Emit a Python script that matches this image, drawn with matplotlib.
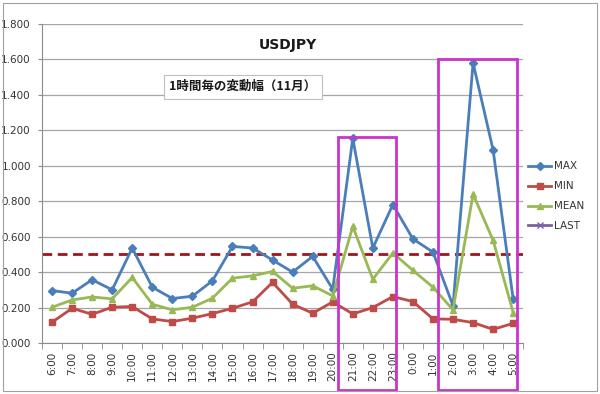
import matplotlib
matplotlib.use("Agg")
import matplotlib.pyplot as plt
from matplotlib.patches import Rectangle
import numpy as np

plt.rcParams['font.family'] = ['DejaVu Sans']

hours = ["6:00", "7:00", "8:00", "9:00", "10:00", "11:00", "12:00", "13:00",
         "14:00", "15:00", "16:00", "17:00", "18:00", "19:00", "20:00", "21:00",
         "22:00", "23:00", "0:00", "1:00", "2:00", "3:00", "4:00", "5:00"]
max_vals = [0.296, 0.281, 0.357, 0.300, 0.536, 0.315, 0.251, 0.264,
            0.351, 0.545, 0.536, 0.468, 0.400, 0.489, 0.304, 1.155,
            0.536, 0.781, 0.587, 0.513, 0.210, 1.580, 1.089, 0.247]
min_vals = [0.117, 0.196, 0.162, 0.202, 0.206, 0.136, 0.121, 0.140,
            0.166, 0.196, 0.232, 0.342, 0.219, 0.168, 0.232, 0.164,
            0.200, 0.262, 0.234, 0.136, 0.134, 0.115, 0.077, 0.111]
mean_vals = [0.202, 0.243, 0.260, 0.249, 0.370, 0.219, 0.187, 0.202,
             0.253, 0.366, 0.379, 0.404, 0.309, 0.323, 0.266, 0.658,
             0.360, 0.508, 0.410, 0.315, 0.187, 0.840, 0.579, 0.172]
threshold = 0.5
yticks = [0.0, 0.2, 0.4, 0.6, 0.8, 1.0, 1.2, 1.4, 1.6, 1.8]
highlight_start = ["21:00", "2:00"]
highlight_end = ["23:00", "5:00"]
highlight_top = [1.163, 1.60]

fig = plt.figure(figsize=(6.0, 3.94), dpi=100)
ax = fig.add_axes([0.07, 0.1294, 0.802, 0.8097])

x = np.arange(len(hours))
ax.set_xlim(-0.5, len(hours) - 0.5)
ax.set_ylim(0, 1.8)

ax.set_yticks(yticks)
ax.set_yticklabels([f"{v:.3f}" for v in yticks], fontsize=7.5, color='#333333')
ax.yaxis.grid(True, color='#a6a6a6', lw=0.9)
ax.set_axisbelow(True)
ax.tick_params(axis='y', length=3, color='#8c8c8c', pad=5)

ax.set_xticks(x)
ax.set_xticklabels(hours, rotation=90, fontsize=7.5, color='#333333')
ax.set_xticks(np.arange(-0.5, len(hours)), minor=True)
ax.tick_params(axis='x', which='major', length=0, pad=6)
ax.tick_params(axis='x', which='minor', length=4, color='#8c8c8c')

for s in ['top', 'right']:
    ax.spines[s].set_visible(False)
for s in ['left', 'bottom']:
    ax.spines[s].set_color('#8c8c8c')

ax.axhline(threshold, color='#a5121c', lw=2, ls=(0, (3.5, 2)), zorder=2)

ax.plot(x, max_vals, color='#4a7ebb', lw=2, marker='D', ms=4, label='MAX', zorder=3)
ax.plot(x, min_vals, color='#be4b48', lw=2, marker='s', ms=5, label='MIN', zorder=3)
ax.plot(x, mean_vals, color='#98b954', lw=2, marker='^', ms=5, label='MEAN', zorder=3)
ax.plot([], [], color='#7d60a0', lw=2, marker='x', ms=5, label='LAST')

leg = ax.legend(loc='center left', bbox_to_anchor=(1.0, 0.46), frameon=False,
                fontsize=7.5, handlelength=2.2, labelspacing=0.95, borderpad=0,
                handletextpad=0.3)
for t in leg.get_texts():
    t.set_color('#333333')

# highlight boxes
for s, e, top in zip(highlight_start, highlight_end, highlight_top):
    i0 = hours.index(s)
    i1 = hours.index(e)
    x0 = i0 - 0.73
    x1 = i1 + 0.17
    ybot = -0.265
    ax.add_patch(Rectangle((x0, ybot), x1 - x0, top - ybot, fill=False,
                           edgecolor='#cc33cc', lw=2, clip_on=False, zorder=5))

fig.text(0.48, 0.885, "USDJPY", fontsize=10, fontweight='bold', ha='center',
         va='center', color='#1a1a1a')
fig.text(0.282, 0.78, "1時間毎の変動幅（11月）", fontsize=9, fontweight='bold',
         ha='left', va='center', color='#1a1a1a',
         family=['Noto Sans CJK JP', 'DejaVu Sans'],
         bbox=dict(boxstyle='square,pad=0.45', fc='white', ec='#bfbfbf', lw=0.8))

# chart area border
fig.patches.append(Rectangle((3 / 600, 1 - 391 / 394), 594 / 600, 388 / 394,
                             transform=fig.transFigure, fill=False,
                             edgecolor='#a0a0a0', lw=0.8))

fig.savefig("out.png", dpi=100)
